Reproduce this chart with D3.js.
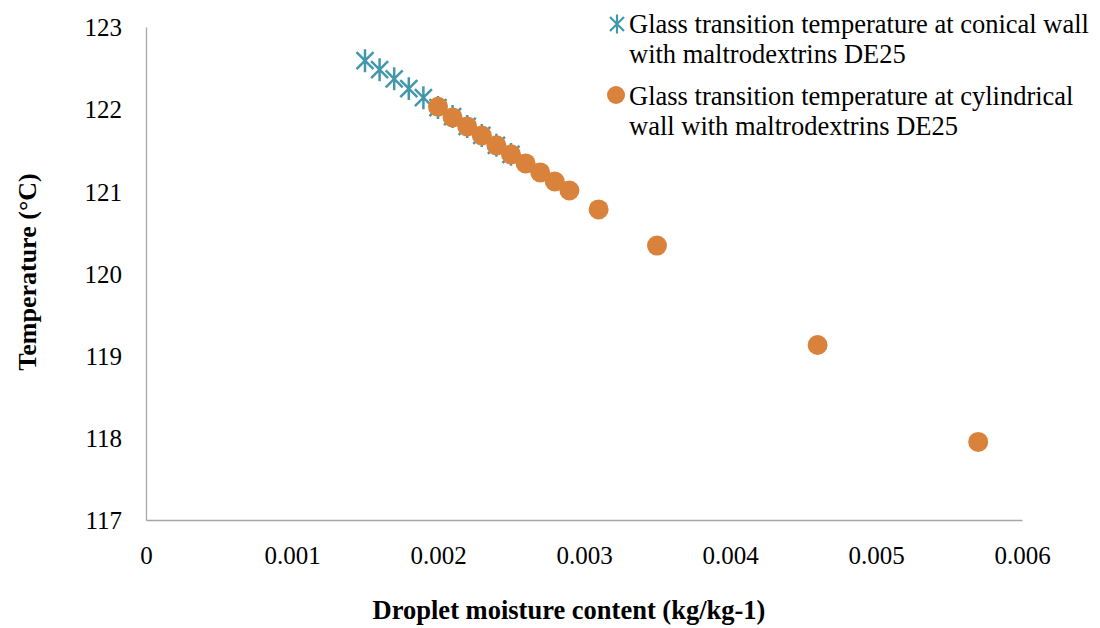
<!DOCTYPE html>
<html>
<head>
<meta charset="utf-8">
<script src="https://cdn.jsdelivr.net/npm/d3@7"></script>
<style>
  html, body { margin: 0; padding: 0; background: #fff; }
  svg { display: block; font-family: "Liberation Serif", "Times New Roman", serif; }
</style>
</head>
<body>
<svg id="chart" width="1100" height="628"></svg>
<script>
// Droplet moisture content (kg/kg-1) vs glass transition temperature (°C)
const conicalX = [0.0015, 0.0016, 0.0017, 0.0018, 0.0019, 0.0020, 0.0021, 0.0022, 0.0023, 0.0024, 0.0025];
const conicalT = [122.59, 122.48, 122.37, 122.25, 122.14, 122.02, 121.91, 121.79, 121.68, 121.56, 121.45];

const cylindricalX = [0.0020, 0.0021, 0.0022, 0.0023, 0.0024, 0.0025, 0.0026, 0.0027, 0.0028, 0.0029, 0.0031, 0.0035, 0.0046, 0.0057];
const cylindricalT = [122.03, 121.90, 121.79, 121.68, 121.56, 121.45, 121.34, 121.23, 121.12, 121.01, 120.78, 120.34, 119.13, 117.95];

const xTicks = [0, 0.001, 0.002, 0.003, 0.004, 0.005, 0.006];
const xTickLabels = ["0", "0.001", "0.002", "0.003", "0.004", "0.005", "0.006"];
const yTicks = [117, 118, 119, 120, 121, 122, 123];

const seriesNames = [
  ["Glass transition temperature at conical wall", "with maltrodextrins DE25"],
  ["Glass transition temperature at cylindrical", "wall with maltrodextrins DE25"]
];

const blue = "#4397ad";
const orange = "#d9823b";
const axisColor = "#a6a6a6";

const svg = d3.select("#chart");
const plot = { left: 146, right: 1022, top: 27, bottom: 520 };

const x = d3.scaleLinear().domain([0, 0.006]).range([plot.left, plot.right]);
const y = d3.scaleLinear().domain([117, 123]).range([plot.bottom, plot.top]);

// Axes: plain grey lines with no tick marks
const xAxis = d3.axisBottom(x).tickValues(xTicks).tickFormat((d, i) => xTickLabels[i]).tickSize(0).tickPadding(26);
const yAxis = d3.axisLeft(y).tickValues(yTicks).tickFormat(d3.format("d")).tickSize(0).tickPadding(24);

const gx = svg.append("g").attr("transform", `translate(0,${plot.bottom})`).call(xAxis);
const gy = svg.append("g").attr("transform", `translate(${plot.left},0)`).call(yAxis);

[gx, gy].forEach(g => {
  g.attr("font-family", null);
  g.select(".domain").attr("stroke", axisColor).attr("stroke-width", 1.3);
  g.selectAll("text").attr("fill", "#000").style("font-size", "25px")
    .style("font-family", "'Liberation Serif', 'Times New Roman', serif");
});
gx.selectAll("text").attr("dy", "0.71em");
gy.selectAll("text").attr("dy", "0.35em");

// Axis titles
svg.append("text")
  .attr("x", 569).attr("y", 619)
  .attr("text-anchor", "middle")
  .style("font-size", "26.5px").style("font-weight", "bold")
  .text("Droplet moisture content (kg/kg-1)");

svg.append("text")
  .attr("transform", `translate(36,272) rotate(-90)`)
  .attr("text-anchor", "middle")
  .style("font-size", "26px").style("font-weight", "bold")
  .text("Temperature (°C)");

// Asterisk marker: an X with a longer vertical stroke
function asterisk(g, cx, cy, r, color, width) {
  const d = `M${cx - r},${cy - r}L${cx + r},${cy + r}M${cx - r},${cy + r}L${cx + r},${cy - r}M${cx},${cy - r * 1.35}L${cx},${cy + r * 1.35}`;
  g.append("path").attr("d", d).attr("stroke", color).attr("stroke-width", width).attr("fill", "none");
}

const conical = conicalX.map((v, i) => ({ x: v, t: conicalT[i] }));
const cylindrical = cylindricalX.map((v, i) => ({ x: v, t: cylindricalT[i] }));

const gCon = svg.append("g");
conical.forEach(d => asterisk(gCon, x(d.x), y(d.t), 8.5, blue, 2.5));

svg.append("g").selectAll("circle").data(cylindrical).join("circle")
  .attr("cx", d => x(d.x)).attr("cy", d => y(d.t)).attr("r", 10)
  .attr("fill", orange);

// Legend
const legend = svg.append("g");
asterisk(legend, 617, 24, 7, blue, 2.2);
legend.append("circle").attr("cx", 616).attr("cy", 95).attr("r", 9).attr("fill", orange);
seriesNames.forEach((lines, i) => {
  const t = legend.append("text").style("font-size", "26.5px").attr("fill", "#000");
  lines.forEach((ln, j) => {
    t.append("tspan").attr("x", 629).attr("y", 33 + i * 72 + j * 30).text(ln);
  });
});
</script>
</body>
</html>
